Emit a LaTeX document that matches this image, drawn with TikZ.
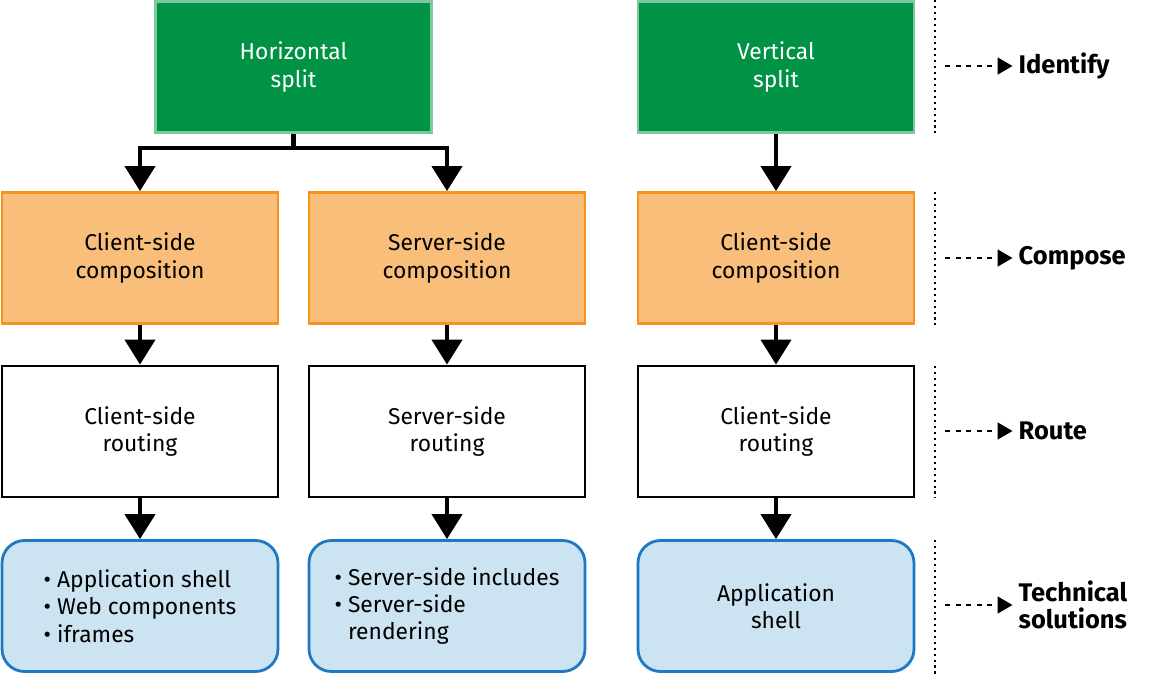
\documentclass[tikz,border=0pt]{standalone}
\usepackage{fontspec}
\setmainfont{Fira Sans}
\usetikzlibrary{arrows.meta}
\definecolor{splitgreen}{RGB}{0,146,69}
\definecolor{splitedge}{RGB}{125,200,160}
\definecolor{compfill}{RGB}{249,191,122}
\definecolor{compedge}{RGB}{247,148,29}
\definecolor{solfill}{RGB}{204,227,241}
\definecolor{soledge}{RGB}{31,120,193}
\tikzset{
  box/.style={minimum width=5.52cm, minimum height=2.62cm, line width=1.6pt, align=center, font=\fontsize{13}{15.5}\selectfont},
  splitbox/.style={box, fill=splitgreen, draw=splitedge, text=white},
  compbox/.style={box, fill=compfill, draw=compedge},
  routebox/.style={box, fill=white, draw=black},
  solbox/.style={box, fill=solfill, draw=soledge, rounded corners=0.45cm},
  flow/.style={line width=2.4pt, -{Triangle[length=0.5cm,width=0.6cm]}},
  stage/.style={dashed, line width=1pt, -{Triangle[length=0.3cm,width=0.34cm]}},
  stagetext/.style={anchor=west, align=left, font=\fontsize{14.5}{15}\selectfont\bfseries},
}
\begin{document}
\begin{tikzpicture}
\useasboundingbox (0,0) rectangle (23,-13.5);
% top row
\node (hs) [splitbox] at (5.87,-1.34) {Horizontal\\split};
\node (vs) [splitbox] at (15.52,-1.34) {Vertical\\split};
% compose row
\node (cc) [compbox] at (2.8,-5.16) {Client-side\\composition};
\node (sc) [compbox] at (8.94,-5.16) {Server-side\\composition};
\node (vc) [compbox] at (15.52,-5.16) {Client-side\\composition};
% route row
\node (cr) [routebox] at (2.8,-8.63) {Client-side\\routing};
\node (sr) [routebox] at (8.94,-8.63) {Server-side\\routing};
\node (vr) [routebox] at (15.52,-8.63) {Client-side\\routing};
% solutions row
\node (cs) [solbox, align=left] at (2.8,-12.12) {\textbullet\ Application shell\\\textbullet\ Web components\\\textbullet\ iframes};
\node (ss) [solbox, align=left] at (8.94,-12.12) {\textbullet\ Server-side includes\\\textbullet\ Server-side\\\phantom{\textbullet\ }rendering};
\node (vsol) [solbox] at (15.52,-12.12) {Application\\shell};
% flow
\coordinate (fork) at (5.87,-2.96);
\draw [line width=2.4pt] (hs.south) -- (fork);
\draw [flow] (fork) -| (cc.north);
\draw [flow] (fork) -| (sc.north);
\draw [flow] (vs) -- (vc);
\foreach \a/\b in {cc/cr,sc/sr,vc/vr,cr/cs,sr/ss,vr/vsol}
  \draw [flow] (\a) -- (\b);
% stages
\foreach \y/\t/\ya/\yb in {-1.32/Identify/0/-2.66, -5.16/Compose/-3.84/-6.5, -8.62/Route/-7.32/-9.96, -12.1/Technical\\solutions/-10.8/-13.5}{
  \draw [dotted, line width=1.4pt] (18.7,\ya) -- (18.7,\yb);
  \coordinate (s0) at (18.9,\y);
  \node (s1) [stagetext] at (20.25,\y) {\t};
  \draw [stage] (s0) -- (s1.west);
}
\end{tikzpicture}
\end{document}
